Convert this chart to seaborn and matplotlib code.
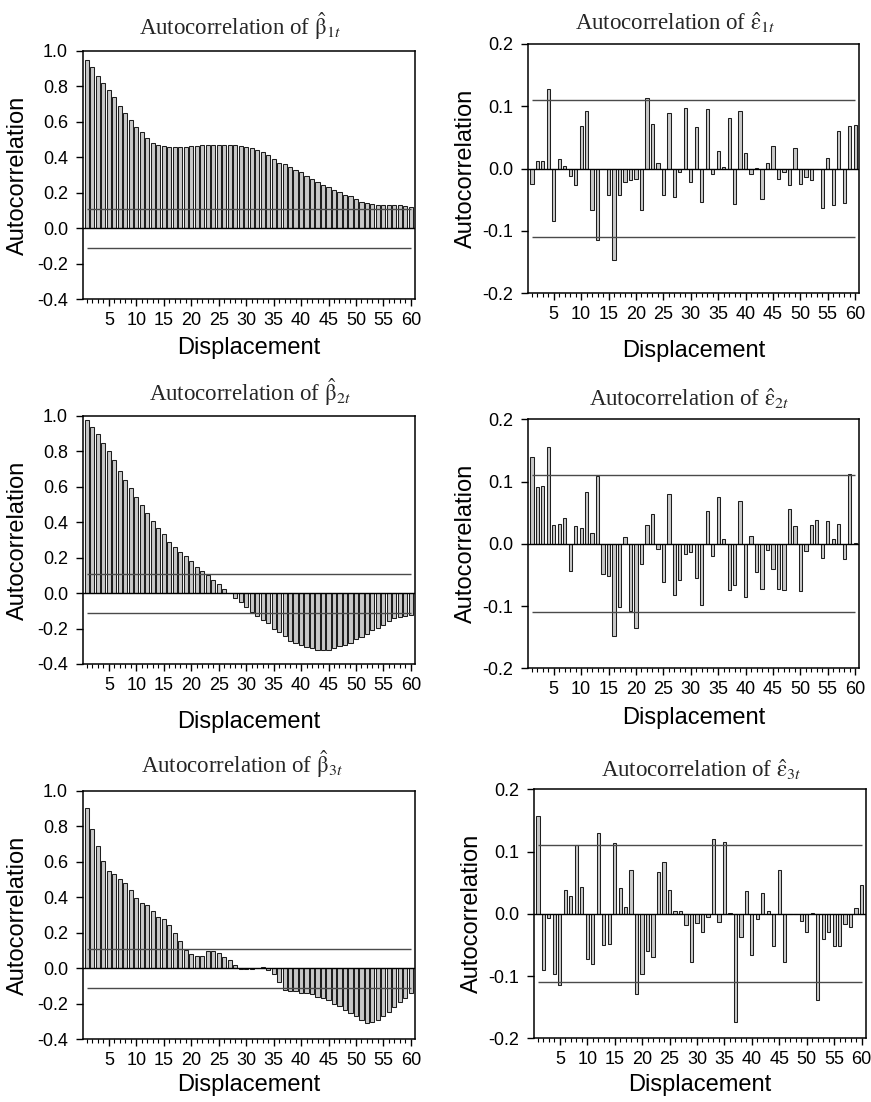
import matplotlib
matplotlib.use("Agg")
import matplotlib.pyplot as plt
from matplotlib.ticker import MultipleLocator, FormatStrFormatter
import seaborn as sns

sns.set_style("ticks")
plt.rcParams['font.family'] = ['Liberation Sans', 'DejaVu Sans']
plt.rcParams['axes.unicode_minus'] = False
plt.rcParams['mathtext.fontset'] = 'stix'

# === data ===
lags = list(range(1, 61))
conf_band = 0.11

beta1_acf = [0.95, 0.91, 0.86, 0.82, 0.78, 0.74, 0.69, 0.65, 0.61, 0.57,
             0.54, 0.51, 0.48, 0.47, 0.465, 0.46, 0.46, 0.46, 0.46, 0.465,
             0.465, 0.47, 0.47, 0.47, 0.47, 0.47, 0.47, 0.47, 0.465, 0.46,
             0.45, 0.44, 0.43, 0.41, 0.39, 0.37, 0.36, 0.345, 0.33, 0.315,
             0.295, 0.28, 0.26, 0.245, 0.23, 0.215, 0.205, 0.19, 0.18, 0.165,
             0.15, 0.14, 0.135, 0.13, 0.13, 0.13, 0.13, 0.13, 0.128, 0.122]
beta2_acf = [0.975, 0.94, 0.90, 0.85, 0.80, 0.75, 0.69, 0.64, 0.595, 0.545,
             0.50, 0.455, 0.41, 0.37, 0.335, 0.29, 0.26, 0.23, 0.21, 0.18,
             0.15, 0.125, 0.105, 0.075, 0.05, 0.025, 0.003, -0.03, -0.05, -0.08,
             -0.105, -0.13, -0.15, -0.17, -0.2, -0.22, -0.24, -0.27, -0.28, -0.29,
             -0.305, -0.31, -0.32, -0.32, -0.32, -0.31, -0.30, -0.29, -0.28, -0.26,
             -0.25, -0.23, -0.21, -0.195, -0.18, -0.155, -0.14, -0.135, -0.13, -0.125]
beta3_acf = [0.90, 0.785, 0.69, 0.605, 0.55, 0.53, 0.505, 0.48, 0.44, 0.395,
             0.365, 0.355, 0.32, 0.29, 0.28, 0.245, 0.20, 0.155, 0.105, 0.08,
             0.07, 0.07, 0.095, 0.10, 0.085, 0.065, 0.045, 0.02, -0.003, -0.003,
             -0.002, 0.003, 0.006, -0.01, -0.035, -0.08, -0.12, -0.13, -0.13, -0.14,
             -0.14, -0.145, -0.16, -0.17, -0.18, -0.2, -0.21, -0.235, -0.25, -0.27,
             -0.29, -0.31, -0.30, -0.29, -0.27, -0.245, -0.22, -0.19, -0.17, -0.14]
eps1_acf = [-0.024, 0.012, 0.012, 0.127, -0.084, 0.016, 0.004, -0.012, -0.027, 0.068,
            0.092, -0.066, -0.114, -0.001, -0.042, -0.146, -0.042, -0.021, -0.018, -0.017,
            -0.066, 0.114, 0.072, 0.009, -0.042, 0.090, -0.045, -0.006, 0.098, -0.021,
            0.067, -0.054, 0.095, -0.008, 0.028, 0.002, 0.081, -0.056, 0.092, 0.025,
            -0.008, 0.001, -0.048, 0.009, 0.037, -0.017, -0.005, -0.027, 0.033, -0.025,
            -0.013, -0.019, -0.001, -0.063, 0.017, -0.058, 0.060, -0.055, 0.068, 0.070]
eps2_acf = [0.139, 0.091, 0.093, 0.155, 0.031, 0.032, 0.042, -0.043, 0.029, 0.025,
            0.084, 0.018, 0.109, -0.048, -0.052, -0.148, -0.101, 0.011, -0.108, -0.135,
            -0.032, 0.031, 0.048, -0.009, -0.061, 0.080, -0.083, -0.058, -0.016, -0.013,
            -0.055, -0.098, 0.052, -0.020, 0.075, 0.008, -0.074, -0.066, 0.068, -0.085,
            0.013, -0.046, -0.072, -0.010, -0.040, -0.073, -0.074, 0.056, 0.028, -0.076,
            -0.011, 0.030, 0.038, -0.023, 0.037, 0.007, 0.032, -0.024, 0.112, 0.001]
eps3_acf = [0.157, -0.09, -0.006, -0.096, -0.115, 0.038, 0.028, 0.111, 0.043, -0.073,
            -0.08, 0.13, -0.05, -0.048, 0.114, 0.041, 0.011, 0.071, -0.129, -0.096,
            -0.059, -0.07, 0.067, 0.084, 0.039, 0.004, 0.004, -0.018, -0.078, -0.015,
            -0.03, -0.005, 0.12, -0.013, 0.116, 0.001, -0.174, -0.038, 0.037, -0.066,
            -0.008, 0.034, 0.004, -0.052, 0.07, -0.077, 0.0, 0.0, -0.012, -0.029,
            0.001, -0.138, -0.04, -0.03, -0.052, -0.051, -0.016, -0.021, 0.01, 0.047]

W, H = 871, 1102
fig = plt.figure(figsize=(W / 100, H / 100), dpi=100)

# values, title, y range, y step, bar width, axes box (px: left, top, right, bottom),
# title x / pad, xlabel center y (px), ylabel center x (px)
panels = [
    (beta1_acf, r'Autocorrelation of $\hat{\mathrm{\beta}}_{1t}$', (-0.4, 1.0), 0.2, 0.75,
     (83.3, 50.7, 415, 299.3), 0.473, 11.3, 348, 18),
    (eps1_acf, r'Autocorrelation of $\hat{\mathrm{\varepsilon}}_{1t}$', (-0.2, 0.2), 0.1, 0.6,
     (528.3, 44, 859.3, 293.3), 0.444, 10, 351, 466),
    (beta2_acf, r'Autocorrelation of $\hat{\mathrm{\beta}}_{2t}$', (-0.4, 1.0), 0.2, 0.75,
     (83.3, 416, 415, 664), 0.501, 11, 722, 18),
    (eps2_acf, r'Autocorrelation of $\hat{\mathrm{\varepsilon}}_{2t}$', (-0.2, 0.2), 0.1, 0.6,
     (528.3, 419.3, 859.3, 668.3), 0.487, 9.6, 718, 466),
    (beta3_acf, r'Autocorrelation of $\hat{\mathrm{\beta}}_{3t}$', (-0.4, 1.0), 0.2, 0.75,
     (83.3, 790.7, 415, 1039.3), 0.478, 12.5, 1085, 18),
    (eps3_acf, r'Autocorrelation of $\hat{\mathrm{\varepsilon}}_{3t}$', (-0.2, 0.2), 0.1, 0.6,
     (534.3, 789.3, 865.7, 1038.3), 0.505, 8.6, 1085, 472),
]

for vals, title, ylim, ystep, bw, box, tx, tpad, xl_y, yl_x in panels:
    l, t, r, b = box
    ax = fig.add_axes([l / W, 1 - b / H, (r - l) / W, (b - t) / H])
    sns.barplot(x=lags, y=vals, native_scale=True, width=bw, color='#c8c8c8',
                saturation=1, edgecolor='#1e1e1e', linewidth=0.75, errorbar=None, ax=ax)
    ax.axhline(0, color='black', lw=1.0, zorder=3)
    ax.hlines([conf_band, -conf_band], lags[0], lags[-1], color='#4a4a4a', lw=1.0, zorder=3)

    ax.set_xlim(0.35, 60.75)
    ax.set_ylim(*ylim)
    ax.xaxis.set_major_locator(MultipleLocator(5))
    ax.xaxis.set_minor_locator(MultipleLocator(1))
    ax.xaxis.set_major_formatter(FormatStrFormatter('%d'))
    ax.yaxis.set_major_locator(MultipleLocator(ystep))
    ax.yaxis.set_major_formatter(FormatStrFormatter('%.1f'))
    ax.tick_params(axis='both', which='major', labelsize=13, length=5, width=1,
                   color='black', labelcolor='black', direction='out')
    ax.tick_params(axis='x', which='minor', length=3, width=0.8, color='black')
    ax.tick_params(axis='y', which='major', pad=6)
    ax.tick_params(axis='x', which='major', pad=4)
    for s in ax.spines.values():
        s.set_color('black')
        s.set_linewidth(1.1)

    ax.set_title(title, fontsize=16.5, family='Liberation Serif', pad=tpad)
    ax.title.set_x(tx)

    ax.set_xlabel('Displacement', fontsize=17, color='black')
    ax.set_ylabel('Autocorrelation', fontsize=17, color='black')
    ax.xaxis.set_label_coords(0.5, (b - xl_y) / (b - t))
    ax.xaxis.label.set_va('center')
    ax.yaxis.set_label_coords((yl_x - l) / (r - l), 0.5)
    ax.yaxis.label.set_va('center')

fig.savefig('out.png', dpi=100)
